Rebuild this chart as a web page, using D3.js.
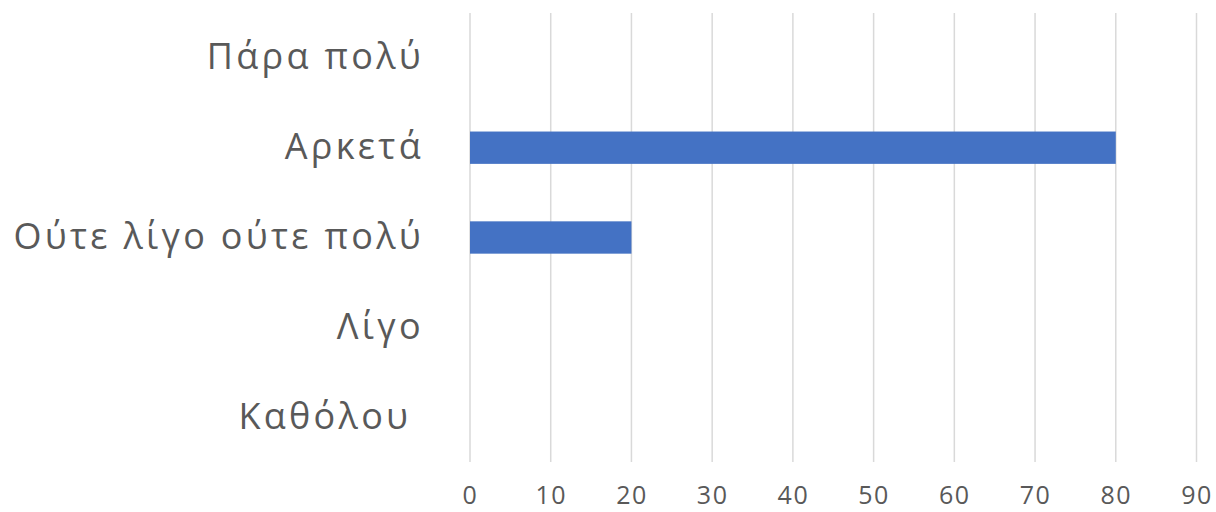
<!DOCTYPE html>
<html><head><meta charset="utf-8">
<script src="https://cdn.jsdelivr.net/npm/d3@7"></script>
<style>body{margin:0;background:#fff}</style>
</head><body>
<svg id="c" width="1216" height="512"></svg>
<script>
const categories = ["Πάρα πολύ", "Αρκετά", "Ούτε λίγο ούτε πολύ", "Λίγο", "Καθόλου "];
const values = [0, 80, 20, 0, 0];
const xTicks = [0, 10, 20, 30, 40, 50, 60, 70, 80, 90];

const svg = d3.select("#c");
const mLeft = 470, mRight = 1196.5, mTop = 13, mBottom = 462;
const x = d3.scaleLinear().domain([0, 90]).range([mLeft, mRight]);
const y = d3.scaleBand().domain(categories).range([mTop, mBottom]).padding(0);
const barH = y.bandwidth() * 0.36;

svg.append("g").selectAll("line").data(xTicks).join("line")
  .attr("x1", d => x(d)).attr("x2", d => x(d))
  .attr("y1", mTop).attr("y2", mBottom)
  .attr("stroke", "#d9d9d9").attr("stroke-width", 1.5);

svg.append("g").selectAll("rect").data(values).join("rect")
  .attr("x", x(0))
  .attr("y", (d, i) => y(categories[i]) + (y.bandwidth() - barH) / 2)
  .attr("width", d => x(d) - x(0))
  .attr("height", barH)
  .attr("fill", "#4472c4");

const xAxis = svg.append("g").attr("transform", `translate(0,${mBottom})`)
  .call(d3.axisBottom(x).tickValues(xTicks).tickSize(0).tickPadding(24));
xAxis.select(".domain").remove();
xAxis.selectAll("text").attr("fill", "#595959")
  .style("font-family", "'Open Sans', sans-serif").style("font-size", "25px")
  .style("letter-spacing", "1.5px");

const yAxis = svg.append("g").attr("transform", `translate(424,0)`)
  .call(d3.axisLeft(y).tickSize(0).tickPadding(0));
yAxis.select(".domain").remove();
yAxis.selectAll("text").attr("fill", "#595959").attr("xml:space", "preserve")
  .style("white-space", "pre")
  .style("font-family", "'Open Sans', sans-serif").style("font-size", "36px")
  .style("letter-spacing", "3.3px");
</script>
</body></html>
